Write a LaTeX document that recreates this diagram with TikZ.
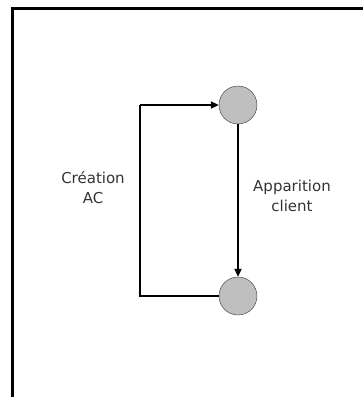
\documentclass[tikz,border=0pt]{standalone}
\usepackage{fontspec}
\setmainfont{DejaVu Sans}
\usetikzlibrary{arrows.meta}
\tikzset{
    etat/.style={circle, draw=black!80, fill=black!25, minimum size=38pt, inner sep=0pt},
    fleche/.style={-{Triangle[length=8pt,width=7pt]}, line width=2pt},
    trait/.style={line width=2pt},
    legende/.style={align=center, text=black!80, font=\fontsize{15}{20}\selectfont}
}
\begin{document}
\begin{tikzpicture}[x=1pt, y=-1pt]
    \useasboundingbox (0,0) rectangle (363,397);
    % Frame
    \draw [line width=2.5pt] (363,8.5) -- (12.5,8.5) -- (12.5,397);

    % States
    \node [etat] (haut) at (238,105) {};
    \node [etat] (bas) at (238,296) {};
    \coordinate (coinhaut) at (140,105);
    \coordinate (coinbas) at (140,296);

    % Transitions
    \draw [trait] (bas.west) -- (coinbas) -- (coinhaut);
    \draw [fleche] (coinhaut) -- (haut.west);
    \draw [fleche] (haut.south) -- (bas.north);

    \node [legende] (lcreation) at (93,188) {Création\\AC};
    \node [legende] (lapparition) at (292,196) {Apparition\\client};
\end{tikzpicture}
\end{document}
